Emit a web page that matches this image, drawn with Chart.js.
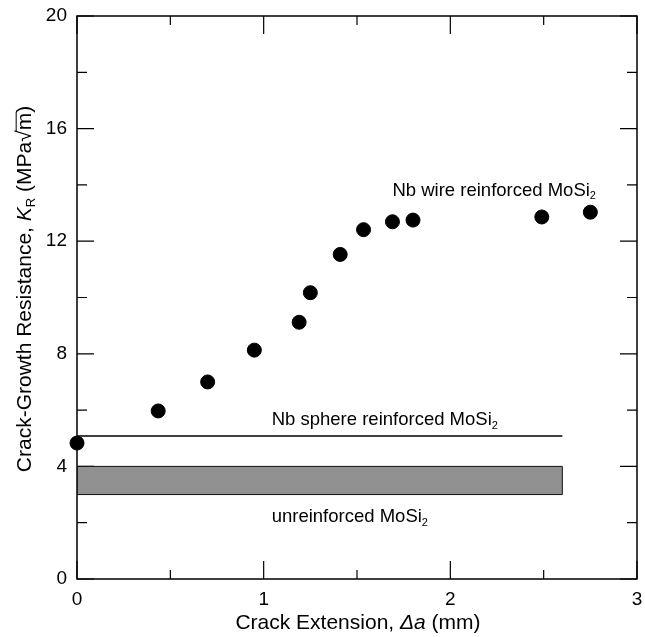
<!DOCTYPE html>
<html>
<head>
<meta charset="utf-8">
<script src="https://cdn.jsdelivr.net/npm/chart.js@4"></script>
<style>
    body { margin: 0; background: #fff; }
    #resistanceChart { display: block; }
</style>
</head>
<body>
<canvas id="resistanceChart" width="645" height="637"></canvas>
<script>
// --- R-curve data: crack extension (mm) vs K_R (MPa√m) ---

// Nb wire reinforced MoSi2 measurements
const wireExtension = [0, 0.435, 0.70, 0.95, 1.19, 1.25, 1.41, 1.535, 1.69, 1.80, 2.49, 2.75];
const wireResistance = [4.83, 5.97, 7.0, 8.13, 9.12, 10.17, 11.53, 12.41, 12.69, 12.75, 12.86, 13.03];

// Nb sphere reinforced MoSi2 (flat level)
const sphereExtension = [0, 2.6];
const sphereResistance = [5.08, 5.08];

// unreinforced MoSi2 (band between low and high)
const bandExtent = [0, 2.6];
const bandLow = 3.0;
const bandHigh = 4.0;

const xTickValues = [0, 1, 2, 3];
const xMinorValues = [0.5, 1.5, 2.5];
const yTickValues = [0, 4, 8, 12, 16, 20];
const yMinorValues = [2, 6, 10, 14, 18];

const FONT = '"Liberation Sans", Arial, Helvetica, sans-serif';

// Draws a run of text pieces (plain / italic / subscript) around a point
function drawRuns(ctx, runs, x, y, size, align) {
    const fontFor = r => {
        const s = r.sub ? Math.round(size * 0.62) : size;
        return (r.italic ? 'italic ' : '') + s + 'px ' + FONT;
    };
    let total = 0;
    runs.forEach(r => { ctx.font = fontFor(r); total += ctx.measureText(r.t).width; });
    let cx = align === 'left' ? x : x - total / 2;
    ctx.textBaseline = 'middle';
    ctx.textAlign = 'left';
    runs.forEach(r => {
        ctx.font = fontFor(r);
        const w = ctx.measureText(r.t).width;
        ctx.fillText(r.t, cx, r.sub ? y + size * 0.3 : y);
        if (r.overline) {
            ctx.lineWidth = 1;
            ctx.beginPath();
            ctx.moveTo(cx - 1, y - size * 0.42);
            ctx.lineTo(cx + w + 1, y - size * 0.42);
            ctx.stroke();
        }
        cx += w;
    });
}

// Frame with inward ticks on all four sides
const frameTicks = {
    id: 'frameTicks',
    beforeDatasetsDraw(chart) {
        const { ctx, chartArea: a, scales: { x, y } } = chart;
        ctx.save();
        ctx.strokeStyle = '#000';
        ctx.lineWidth = 1.5;
        ctx.strokeRect(a.left, a.top, a.right - a.left, a.bottom - a.top);
        ctx.lineWidth = 1.2;
        ctx.beginPath();
        const xTick = (v, len) => {
            const px = x.getPixelForValue(v);
            ctx.moveTo(px, a.bottom); ctx.lineTo(px, a.bottom - len);
            ctx.moveTo(px, a.top); ctx.lineTo(px, a.top + len);
        };
        const yTick = (v, len) => {
            const py = y.getPixelForValue(v);
            ctx.moveTo(a.left, py); ctx.lineTo(a.left + len, py);
            ctx.moveTo(a.right, py); ctx.lineTo(a.right - len, py);
        };
        xTickValues.forEach(v => xTick(v, 18));
        xMinorValues.forEach(v => xTick(v, 9));
        yTickValues.forEach(v => yTick(v, 17));
        yMinorValues.forEach(v => yTick(v, 10));
        ctx.stroke();
        ctx.restore();
    },
    afterDraw(chart) {
        const { ctx, chartArea: a, scales: { x, y } } = chart;
        ctx.save();
        ctx.fillStyle = '#000';
        ctx.strokeStyle = '#000';

        // axis titles
        drawRuns(ctx, [
            { t: 'Crack Extension, ' },
            { t: '\u0394a', italic: true },
            { t: ' (mm)' }
        ], 358, 623, 21, 'center');

        ctx.save();
        ctx.translate(25, 289);
        ctx.rotate(-Math.PI / 2);
        drawRuns(ctx, [
            { t: 'Crack-Growth Resistance, ' },
            { t: 'K', italic: true },
            { t: 'R', sub: true },
            { t: ' (MPa\u221A' },
            { t: 'm', overline: true },
            { t: ')' }
        ], 0, 0, 21, 'center');
        ctx.restore();

        // series labels
        drawRuns(ctx, [{ t: 'Nb wire reinforced MoSi' }, { t: '2', sub: true }],
            x.getPixelForValue(2.235), y.getPixelForValue(13.8), 18.5, 'center');
        drawRuns(ctx, [{ t: 'Nb sphere reinforced MoSi' }, { t: '2', sub: true }],
            x.getPixelForValue(1.043), y.getPixelForValue(5.65), 18.5, 'left');
        drawRuns(ctx, [{ t: 'unreinforced MoSi' }, { t: '2', sub: true }],
            x.getPixelForValue(1.043), y.getPixelForValue(2.2), 18.5, 'left');
        ctx.restore();
    }
};

const bandPoints = [
    { x: bandExtent[0], y: bandLow },
    { x: bandExtent[1], y: bandLow },
    { x: bandExtent[1], y: bandHigh },
    { x: bandExtent[0], y: bandHigh },
    { x: bandExtent[0], y: bandLow }
];

const ctxResistance = document.getElementById('resistanceChart').getContext('2d');
const chart = new Chart(ctxResistance, {
    type: 'scatter',
    data: {
        datasets: [
            {
                label: 'unreinforced MoSi2',
                data: bandPoints,
                showLine: true,
                fill: 'shape',
                backgroundColor: '#919191',
                borderColor: '#111',
                borderWidth: 1,
                pointRadius: 0,
                tension: 0
            },
            {
                label: 'Nb sphere reinforced MoSi2',
                data: sphereExtension.map((v, i) => ({ x: v, y: sphereResistance[i] })),
                showLine: true,
                borderColor: '#000',
                borderWidth: 1.5,
                pointRadius: 0
            },
            {
                label: 'Nb wire reinforced MoSi2',
                data: wireExtension.map((v, i) => ({ x: v, y: wireResistance[i] })),
                backgroundColor: '#000',
                borderColor: '#000',
                pointRadius: 7,
                clip: false
            }
        ]
    },
    options: {
        responsive: false,
        animation: false,
        layout: { padding: { top: 16, right: 6, left: 0, bottom: 0 } },
        plugins: {
            legend: { display: false },
            tooltip: { enabled: false }
        },
        scales: {
            x: {
                type: 'linear',
                min: 0,
                max: 3,
                afterFit: s => { s.height = 58; s.paddingLeft = 0; s.paddingRight = 0; },
                afterBuildTicks: s => { s.ticks = xTickValues.map(v => ({ value: v })); },
                ticks: { color: '#000', padding: 9, font: { family: FONT, size: 19 } },
                grid: { display: false, drawTicks: false },
                border: { display: false }
            },
            y: {
                type: 'linear',
                min: 0,
                max: 20,
                afterFit: s => { s.width = 77; s.paddingTop = 0; s.paddingBottom = 0; },
                afterBuildTicks: s => { s.ticks = yTickValues.map(v => ({ value: v })); },
                ticks: { color: '#000', padding: 10, font: { family: FONT, size: 19 } },
                grid: { display: false, drawTicks: false },
                border: { display: false }
            }
        }
    },
    plugins: [frameTicks]
});
</script>
</body>
</html>
